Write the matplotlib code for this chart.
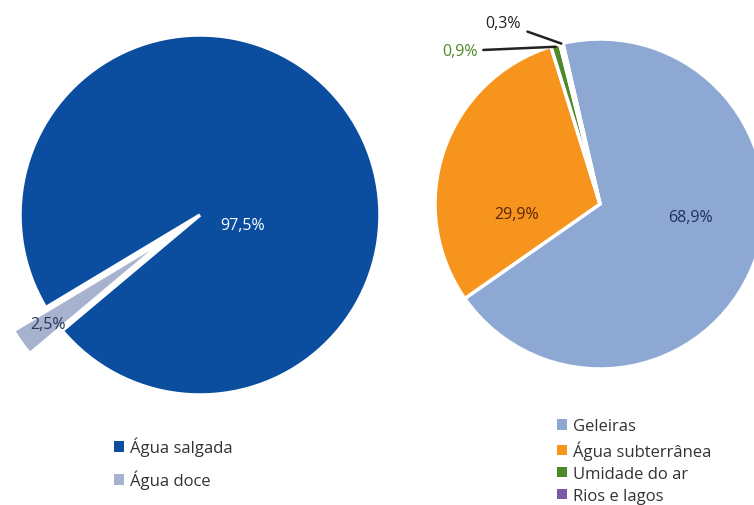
import numpy as np
import matplotlib
matplotlib.use("Agg")
import matplotlib.pyplot as plt
from matplotlib.patches import Patch

plt.rcParams['font.family'] = ['Open Sans', 'DejaVu Sans']

# Água do planeta
agua_labels = ["Água salgada", "Água doce"]
agua_values = [97.5, 2.5]
agua_colors = ["#0B4EA0", "#A7B3CE"]
agua_text_colors = ["#FFFFFF", "#2B3556"]

# Distribuição da água doce
doce_labels = ["Geleiras", "Água subterrânea", "Umidade do ar", "Rios e lagos"]
doce_values = [68.9, 29.9, 0.9, 0.3]
doce_colors = ["#8DA8D3", "#F7941D", "#4F8A28", "#7B5AA6"]
doce_text_colors = ["#23305C", "#5A2608", "#4F8A28", "#222222"]


def fmt(v):
    return f"{v:.1f}%".replace(".", ",")


W, H = 754, 506
fig = plt.figure(figsize=(W / 100, H / 100), dpi=100)
ax = fig.add_axes([0, 0, 1, 1])

LABEL_FS = 11.5

# ---- left pie: salt vs fresh water (fresh-water slice pulled out)
c1, r1 = (200, H - 216), 180
w1, _ = ax.pie(agua_values, colors=agua_colors, center=c1, radius=r1,
               startangle=-140, explode=[0, 0.22 * r1], frame=True,
               wedgeprops=dict(edgecolor="white", linewidth=2.5))

ax.text(c1[0] + 43, c1[1] - 10, fmt(agua_values[0]), color=agua_text_colors[0],
        fontsize=LABEL_FS, ha="center", va="center")
mid = np.deg2rad((w1[1].theta1 + w1[1].theta2) / 2)
rr = r1 * (0.22 + 0.82)
ax.text(c1[0] + rr * np.cos(mid), c1[1] + rr * np.sin(mid), fmt(agua_values[1]),
        color=agua_text_colors[1], fontsize=LABEL_FS, ha="center", va="center")

# ---- right pie: fresh water breakdown
c2, r2 = (600, H - 205), 165
w2, _ = ax.pie(doce_values, colors=doce_colors, center=c2, radius=r2,
               startangle=103, counterclock=False, frame=True,
               wedgeprops=dict(edgecolor="white", linewidth=2.5))

ax.text(690, H - 218, fmt(doce_values[0]), color=doce_text_colors[0],
        fontsize=LABEL_FS, ha="center", va="center")
ax.text(517, H - 215, fmt(doce_values[1]), color=doce_text_colors[1],
        fontsize=LABEL_FS, ha="center", va="center")


def edge_point(w, frac=1.0):
    a = np.deg2rad((w.theta1 + w.theta2) / 2)
    return (c2[0] + frac * r2 * np.cos(a), c2[1] + frac * r2 * np.sin(a))


ax.annotate(fmt(doce_values[2]), xy=edge_point(w2[2], 0.99), xytext=(460, H - 52),
            color=doce_text_colors[2], fontsize=LABEL_FS, ha="center", va="center",
            arrowprops=dict(arrowstyle="-", color="#222222", lw=1.8,
                            shrinkA=2, shrinkB=0))
ax.annotate(fmt(doce_values[3]), xy=edge_point(w2[3], 1.0), xytext=(503, H - 24),
            color=doce_text_colors[3], fontsize=LABEL_FS, ha="center", va="center",
            arrowprops=dict(arrowstyle="-", color="#222222", lw=1.8,
                            shrinkA=3, shrinkB=0))

# ---- legends
leg1 = ax.legend([Patch(facecolor=c) for c in agua_colors], agua_labels,
                 loc="center left", bbox_to_anchor=(114, H - 464),
                 bbox_transform=ax.transData, frameon=False, fontsize=12,
                 handlelength=0.6, handleheight=0.6, handletextpad=0.35,
                 labelspacing=0.82, borderpad=0, borderaxespad=0,
                 labelcolor="#333333")
ax.add_artist(leg1)
ax.legend([Patch(facecolor=c) for c in doce_colors], doce_labels,
          loc="center left", bbox_to_anchor=(557, H - 462),
          bbox_transform=ax.transData, frameon=False, fontsize=12,
          handlelength=0.6, handleheight=0.6, handletextpad=0.35,
          labelspacing=0.36, borderpad=0, borderaxespad=0,
          labelcolor="#333333")

ax.set_xlim(0, W)
ax.set_ylim(0, H)
ax.set_aspect("equal")
ax.axis("off")

fig.savefig("out.png", dpi=100, facecolor="white")
